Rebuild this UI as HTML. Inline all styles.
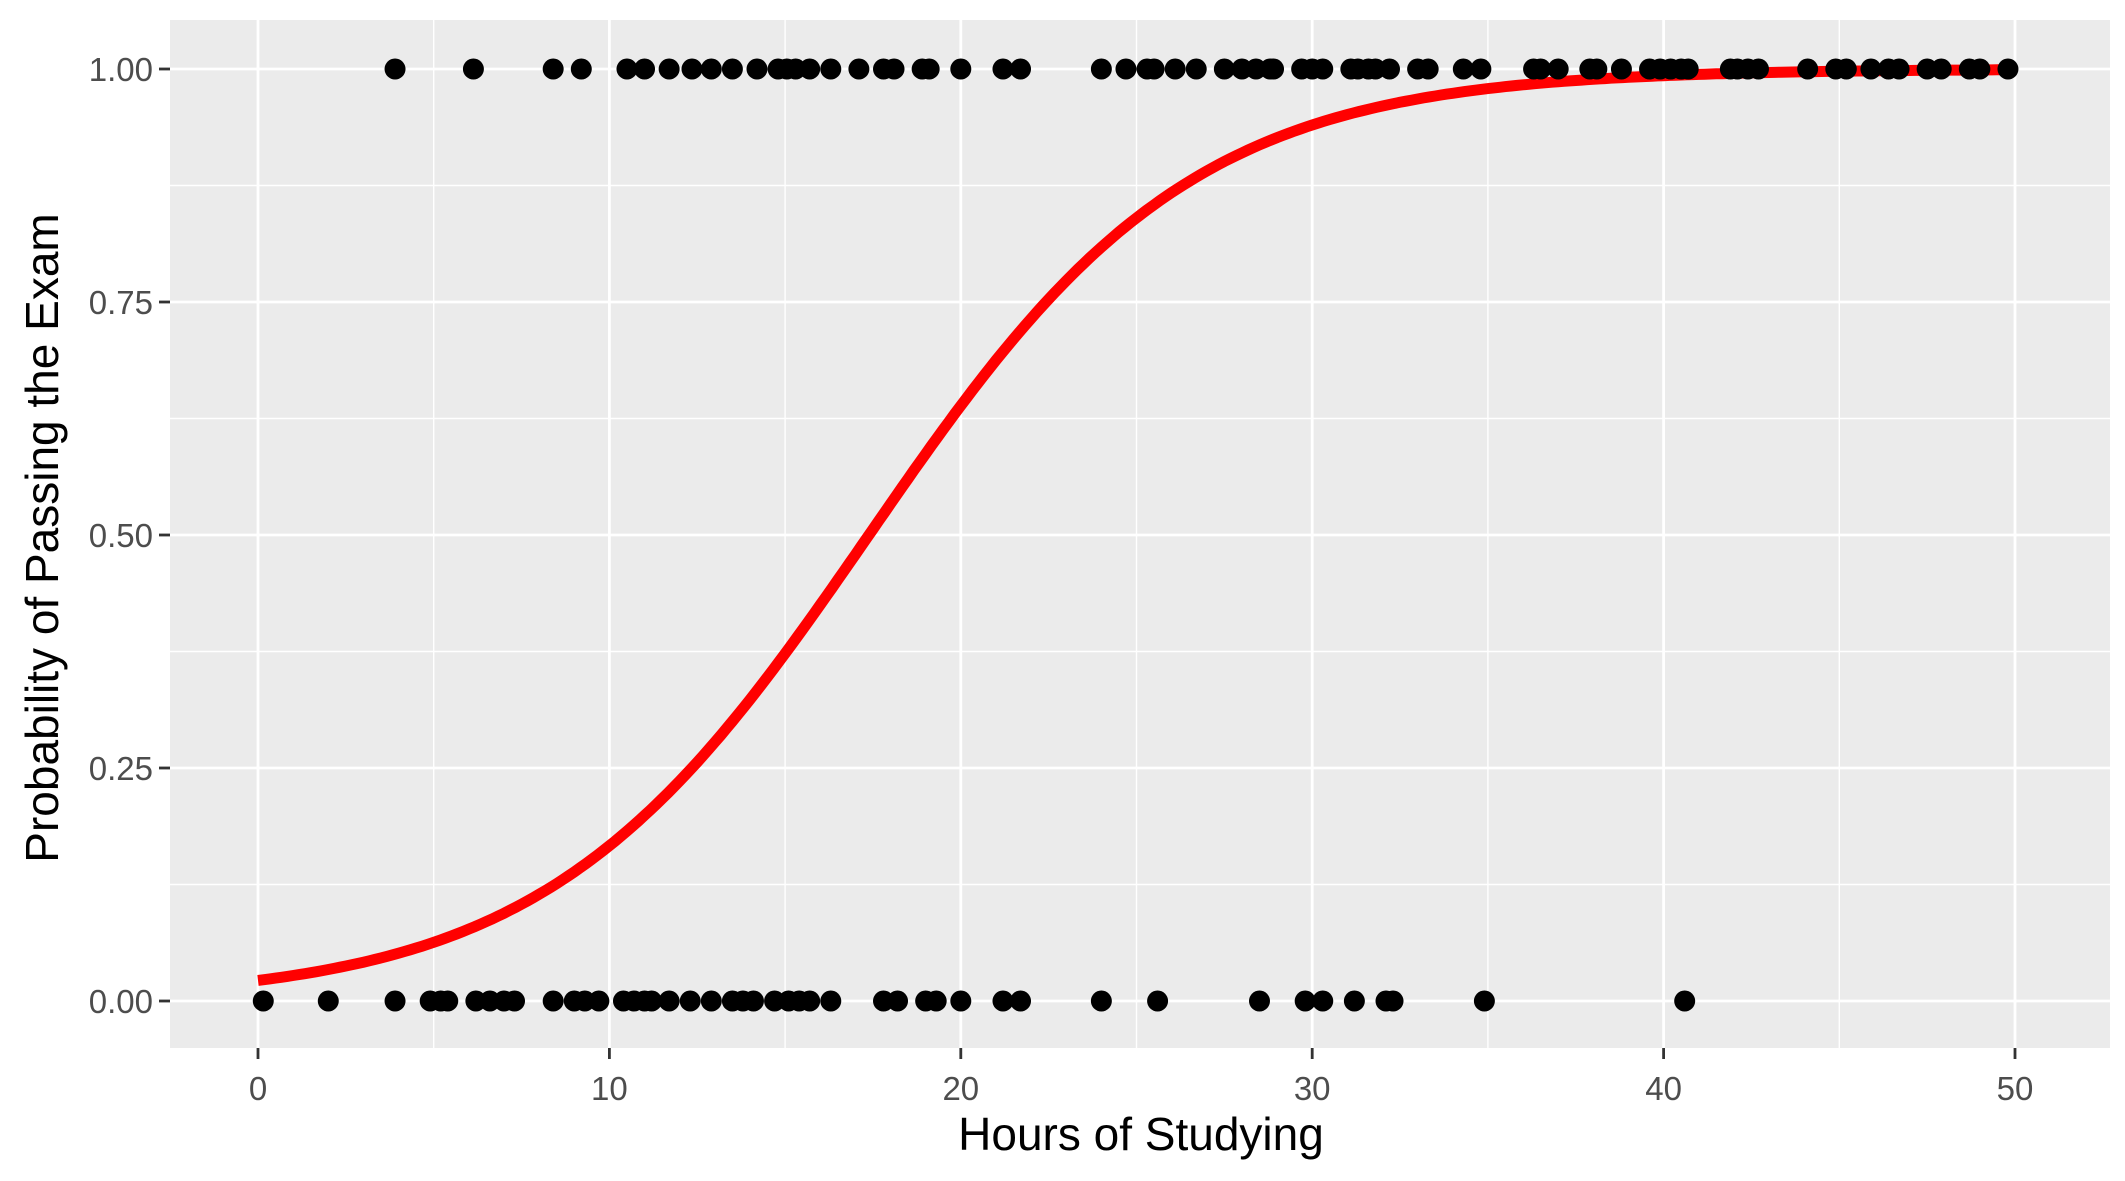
<!DOCTYPE html>
<html><head><meta charset="utf-8"><style>
body{margin:0;background:#fff}
svg{display:block;font-family:"Liberation Sans",Arial,sans-serif}
</style></head><body>
<svg id="chart" width="2125" height="1181" viewBox="0 0 2125 1181" xmlns="http://www.w3.org/2000/svg">
<rect x="0" y="0" width="2125" height="1181" fill="#fff"/>
<rect x="170" y="20" width="1940" height="1028" fill="#ebebeb"/>
<g id="grid"></g><g id="curve"></g><g id="points"></g><g id="axes"></g>
<text x="1141" y="1150" font-size="46" text-anchor="middle" fill="#000">Hours of Studying</text>
<text x="0" y="0" font-size="46" text-anchor="middle" fill="#000" transform="translate(58,538) rotate(-90)">Probability of Passing the Exam</text>
</svg>
<script>
const xTicks=[0,10,20,30,40,50];
const xMinor=[5,15,25,35,45];
const yTicks=[0,0.25,0.5,0.75,1];
const yTickLabels=["0.00","0.25","0.50","0.75","1.00"];
const yMinor=[0.125,0.375,0.625,0.875];
const passHours=[3.9,6.13,8.4,9.2,10.5,11.0,11.7,12.35,12.9,13.5,14.2,14.8,15.05,15.3,15.7,16.3,17.1,17.8,18.1,18.9,19.1,20.0,21.2,21.7,24.0,24.7,25.3,25.5,26.1,26.7,27.5,28.0,28.4,28.8,28.9,29.7,30.0,30.3,31.1,31.3,31.6,31.8,32.2,33.0,33.3,34.3,34.8,36.3,36.5,37.0,37.9,38.1,38.8,39.6,39.9,40.2,40.5,40.7,41.9,42.1,42.4,42.7,44.1,44.9,45.2,45.9,46.4,46.7,47.5,47.9,48.7,49.0,49.8];
const failHours=[0.15,2.0,3.9,4.9,5.2,5.4,6.2,6.6,7.0,7.3,8.4,9.0,9.3,9.7,10.4,10.7,11.0,11.2,11.7,12.3,12.9,13.5,13.8,14.1,14.7,15.1,15.4,15.7,16.3,17.8,18.2,19.0,19.3,20.0,21.2,21.7,24.0,25.6,28.5,29.8,30.3,31.2,32.1,32.3,34.9,40.6];
const coef=[-3.79,0.218];
const curveRange=[0,50];

const NS="http://www.w3.org/2000/svg";
const X=v=>258+v*(1757/50);
const Y=v=>1001-v*932;
function mk(tag,attrs,parent){const e=document.createElementNS(NS,tag);for(const k in attrs)e.setAttribute(k,attrs[k]);document.getElementById(parent).appendChild(e);return e;}
xMinor.forEach(v=>{const e=mk('line',{x1:X(v),x2:X(v),y1:20,y2:1048,stroke:'#fff','stroke-width':1.4},'grid');

});
yMinor.forEach(v=>{const e=mk('line',{x1:170,x2:2110,y1:Y(v),y2:Y(v),stroke:'#fff','stroke-width':1.4},'grid');

});
xTicks.forEach(v=>{const e=mk('line',{x1:X(v),x2:X(v),y1:20,y2:1048,stroke:'#fff','stroke-width':2.8},'grid');


const t=mk('line',{x1:X(v),x2:X(v),y1:1048,y2:1059,stroke:'#333','stroke-width':2.8},'axes');


const l=mk('text',{x:X(v),y:1100,'font-size':33,'text-anchor':'middle',fill:'#4d4d4d'},'axes');l.textContent=v;

});
yTicks.forEach((v,i)=>{const e=mk('line',{x1:170,x2:2110,y1:Y(v),y2:Y(v),stroke:'#fff','stroke-width':2.8},'grid');


const t=mk('line',{x1:159,x2:170,y1:Y(v),y2:Y(v),stroke:'#333','stroke-width':2.8},'axes');


const l=mk('text',{x:153,y:Y(v)+12,'font-size':33,'text-anchor':'end',fill:'#4d4d4d'},'axes');l.textContent=yTickLabels[i];

});
let d='';for(let i=0;i<=300;i++){const h=curveRange[0]+(curveRange[1]-curveRange[0])*i/300;const p=1/(1+Math.exp(-(coef[0]+coef[1]*h)));d+=(i?'L':'M')+X(h).toFixed(1)+','+Y(p).toFixed(1);}
const c=mk('path',{d:d,fill:'none',stroke:'#ff0000','stroke-width':11},'curve');


passHours.forEach(h=>{const e=mk('circle',{cx:X(h),cy:Y(1),r:10.5,fill:'#000'},'points');

});
failHours.forEach(h=>{const e=mk('circle',{cx:X(h),cy:Y(0),r:10.5,fill:'#000'},'points');

});
</script>
</body></html>
